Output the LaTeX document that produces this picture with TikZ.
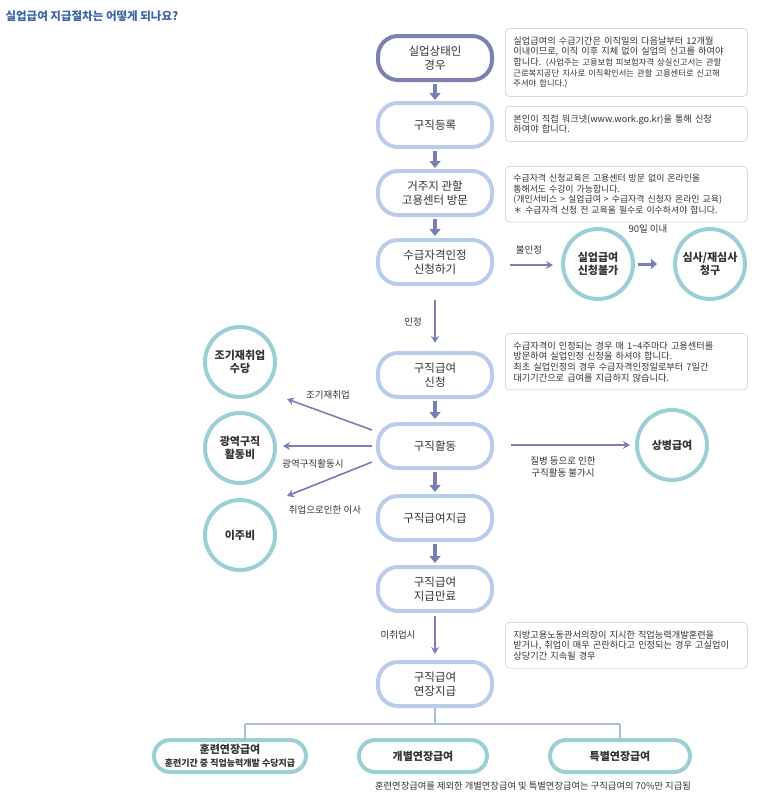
\documentclass[tikz,border=0pt]{standalone}
\usepackage{fontspec}
\setmainfont{Noto Sans CJK KR}
\usetikzlibrary{arrows.meta}
\definecolor{mainb}{HTML}{B9CDEA}
\definecolor{darkb}{HTML}{7C80B2}
\definecolor{teal}{HTML}{9CCFD5}
\definecolor{arr}{HTML}{7A7EB4}
\definecolor{notec}{HTML}{D8D8D8}
\definecolor{txt}{HTML}{333333}
\definecolor{ttl}{HTML}{3D63A8}
\tikzset{
 stepbox/.style={draw=mainb,line width=4pt,rounded corners=20pt,minimum width=114pt,minimum height=44pt,align=center,font=\fontsize{11.5}{14}\selectfont,text=txt,fill=white},
 notebox/.style={draw=notec,line width=0.8pt,rounded corners=4pt,text width=226pt,inner sep=8pt,align=left,font=\fontsize{9.2}{10.7}\selectfont,text=txt,anchor=north west},
 circ/.style={draw=teal,line width=4pt,circle,minimum size=70pt,align=center,font=\fontsize{11}{13}\selectfont\bfseries,text=txt,fill=white},
 fat/.style={-{Triangle[width=11pt,length=7pt]},draw=arr,line width=4.5pt},
 thin/.style={-{Stealth[width=8pt,length=7pt]},draw=arr,line width=1.6pt},
 lbl/.style={font=\fontsize{9.5}{11.5}\selectfont,text=txt,align=center},
 botbox/.style={draw=teal,line width=4pt,rounded corners=16pt,minimum height=32pt,align=center,font=\fontsize{11}{12.5}\selectfont\bfseries,text=txt,fill=white},
 tree/.style={draw=mainb!80!gray,line width=1.2pt}
}
\begin{document}
\begin{tikzpicture}[x=1pt,y=-1pt]
\useasboundingbox (0,0) rectangle (776,798);
\node[anchor=west,font=\fontsize{11.5}{13}\selectfont\bfseries,text=ttl] (title) at (2,16) {실업급여 지급절차는 어떻게 되나요?};
% main column
\node[stepbox,draw=darkb] (s1) at (435,58) {실업상태인\\경우};
\node[stepbox] (s2) at (435,125) {구직등록};
\node[stepbox] (s3) at (435,193) {거주지 관할\\고용센터 방문};
\node[stepbox] (s4) at (435,262) {수급자격인정\\신청하기};
\node[stepbox] (s5) at (435,375) {구직급여\\신청};
\node[stepbox] (s6) at (435,446) {구직활동};
\node[stepbox] (s7) at (435,518) {구직급여지급};
\node[stepbox] (s8) at (435,589) {구직급여\\지급만료};
\node[stepbox] (s9) at (435,684) {구직급여\\연장지급};
\draw[fat] (435,84) -- (435,100);
\draw[fat] (435,151) -- (435,168);
\draw[fat] (435,219) -- (435,236);
\draw[fat] (435,401) -- (435,419);
\draw[fat] (435,472) -- (435,492);
\draw[fat] (435,544) -- (435,563);
\draw[thin] (435,300) -- (435,343);
\node[lbl] (l1) at (413,322) {인정};
\draw[thin] (435,616) -- (435,654);
\node[lbl] (l2) at (398,635) {미취업시};
% notes
\node[notebox] (n1) at (505,28) {실업급여의 수급기간은 이직일의 다음날부터 12개월 이내이므로, 이직 이후 지체 없이 실업의 신고를 하여야 합니다. {\fontsize{8.3}{10.7}\selectfont(사업주는 고용보험 피보험자격 상실신고서는 관할 근로복지공단 지사로 이직확인서는 관할 고용센터로 신고해 주셔야 합니다.)}};
\node[notebox] (n2) at (505,106) {본인이 직접 워크넷(www.work.go.kr)을 통해 신청\\하여야 합니다.};
\node[notebox,font=\fontsize{8.9}{10.5}\selectfont] (n3) at (505,166) {수급자격 신청교육은 고용센터 방문 없이 온라인을\\통해서도 수강이 가능합니다.\\(개인서비스 > 실업급여 > 수급자격 신청자 온라인 교육)\\＊ 수급자격 신청 전 교육을 필수로 이수하셔야 합니다.};
\node[notebox] (n4) at (505,333) {수급자격이 인정되는 경우 매 1\textasciitilde4주마다 고용센터를\\방문하여 실업인정 신청을 하셔야 합니다.\\최초 실업인정의 경우 수급자격인정일로부터 7일간\\대기기간으로 급여를 지급하지 않습니다.};
\node[notebox] (n5) at (505,622) {지방고용노동관서의장이 지시한 직업능력개발훈련을\\받거나, 취업이 매우 곤란하다고 인정되는 경우 고실업이\\상당기간 지속될 경우};
% circles
\node[circ] (c1) at (598,264) {실업급여\\신청불가};
\node[circ] (c2) at (710,264) {심사/재심사\\청구};
\node[circ] (c3) at (672,445) {상병급여};
\node[circ] (c4) at (240,362) {조기재취업\\수당};
\node[circ] (c5) at (240,448) {광역구직\\활동비};
\node[circ] (c6) at (240,535) {이주비};
\draw[thin] (510,265) -- (553,265);
\node[lbl] (l3) at (529,250) {불인정};
\draw[-{Triangle[width=10pt,length=6pt]},draw=arr,line width=3pt] (638,264) -- (657,264);
\node[lbl] (l4) at (648,229) {90일 이내};
\draw[thin] (511,445) -- (630,445);
\node[lbl] (l5) at (563,467) {질병 등으로 인한\\구직활동 불가시};
\draw[thin] (372,430) -- (287,399);
\node[lbl] (l6) at (328,395) {조기재취업};
\draw[thin] (372,446) -- (283,446);
\node[lbl] (l7) at (313,464) {광역구직활동시};
\draw[thin] (372,462) -- (287,496);
\node[lbl] (l8) at (325,510) {취업으로인한 이사};
% bottom
\node[botbox,minimum width=152pt] (b1) at (230,756) {훈련연장급여\\{\fontsize{9}{10.5}\selectfont 훈련기간 중 직업능력개발 수당지급}};
\node[botbox,minimum width=128pt] (b2) at (423,756) {개별연장급여};
\node[botbox,minimum width=140pt] (b3) at (620,756) {특별연장급여};
\draw[tree] (s9.south) -- (435,724);
\draw[tree] (245,724) -- (620,724);
\draw[tree] (245,724) -- (245,740);
\draw[tree] (620,724) -- (b3.north);
\node[lbl,font=\fontsize{9.3}{11}\selectfont] (foot) at (533,786) {훈련연장급여를 제외한 개별연장급여 및 특별연장급여는 구직급여의 70\%만 지급됨};
\end{tikzpicture}
\end{document}
